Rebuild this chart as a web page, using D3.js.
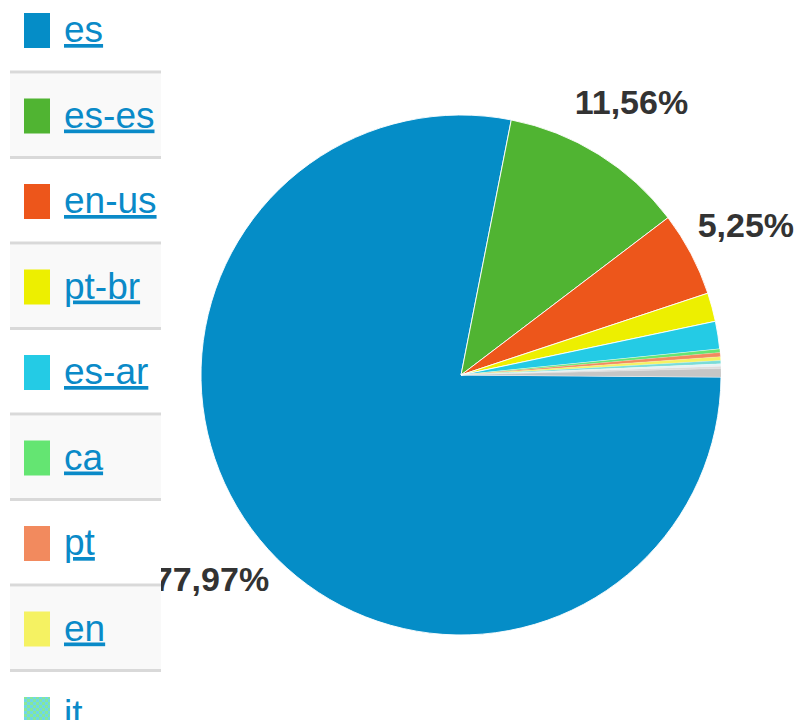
<!DOCTYPE html>
<html>
<head>
<meta charset="utf-8">
<script src="https://cdn.jsdelivr.net/npm/d3@7"></script>
<style>
  body { margin: 0; background: #fff; }
  svg { display: block; }
</style>
</head>
<body>
<div id="div_graph"></div>
<script>
// data
var categories = ["es", "es-es", "en-us", "pt-br", "es-ar", "ca", "pt", "en", "it"];
var values = [77.97, 11.56, 5.25, 1.78, 1.72, 0.22, 0.25, 0.24, 0.20];
var colors = ["#058dc7", "#50b432", "#ed561b", "#edef00", "#24cbe5", "#64e572", "#f28a5e", "#f5f262", "#7adcd8"];
// thin tail of unnamed slices (legend is cut off before them)
var otherValues = [0.15, 0.14, 0.52];
var otherColors = ["#e4f2f4", "#dcdcdc", "#c6c6c6"];

var width = 797, height = 720;
var cx = 461, cy = 375, radius = 260, labelRadius = 322;

var svg = d3.select('#div_graph')
  .append('svg')
    .attr('width', width)
    .attr('height', height);

var defs = svg.append('defs');
var checker = defs.append('pattern')
    .attr('id', 'it-pattern')
    .attr('width', 6)
    .attr('height', 6)
    .attr('patternUnits', 'userSpaceOnUse');
checker.append('rect').attr('width', 6).attr('height', 6).attr('fill', '#6fd6e6');
checker.append('rect').attr('width', 3).attr('height', 3).attr('fill', '#86e79a');
checker.append('rect').attr('x', 3).attr('y', 3).attr('width', 3).attr('height', 3).attr('fill', '#86e79a');

var slices = [];
values.forEach(function(v, i) { slices.push({name: categories[i], value: v, color: colors[i]}); });
otherValues.forEach(function(v, i) { slices.push({name: null, value: v, color: otherColors[i]}); });

var pie = d3.pie()
  .sort(null)
  .value(function(d) { return d.value; })
  .startAngle(Math.PI / 2 + 0.008)
  .endAngle(Math.PI / 2 + 0.008 + 2 * Math.PI);

var arc = d3.arc().innerRadius(0).outerRadius(radius);
var labelArc = d3.arc().innerRadius(labelRadius).outerRadius(labelRadius);

var g = svg.append('g')
  .attr('transform', 'translate(' + cx + ',' + cy + ')');

var arcs = pie(slices);

g.selectAll('path')
  .data(arcs).enter()
  .append('path')
    .attr('d', arc)
    .attr('fill', function(d) { return d.data.color; })
    .attr('stroke', '#fff')
    .attr('stroke-opacity', function(d) { return d.data.value > 1 ? 0.9 : 0.3; })
    .attr('stroke-width', function(d) { return d.data.value > 1 ? 1 : 0.5; });

g.selectAll('.pct')
  .data(arcs.filter(function(d) { return d.data.value > 5; })).enter()
  .append('text')
    .attr('class', 'pct')
    .attr('transform', function(d) { return 'translate(' + labelArc.centroid(d) + ')'; })
    .attr('text-anchor', 'middle')
    .attr('dy', '0.36em')
    .attr('font-family', '"Liberation Sans", Arial, sans-serif')
    .attr('font-size', 34)
    .attr('font-weight', 'bold')
    .attr('fill', '#333')
    .text(function(d) { return d3.format('.2f')(d.data.value).replace('.', ',') + '%'; });

// legend, drawn over the pie labels
var rowH = 85.5, sepTop = 70.5;
var legend = svg.append('g').attr('id', 'g_legend');

legend.append('rect')
  .attr('x', 0).attr('y', 0)
  .attr('width', 161).attr('height', height)
  .attr('fill', '#fff');

legend.selectAll('.row_bg')
  .data(categories).enter()
  .append('rect')
    .attr('class', 'row_bg')
    .attr('x', 10)
    .attr('y', function(d, i) { return sepTop + rowH * (i - 1) + 3; })
    .attr('width', 151)
    .attr('height', rowH - 3)
    .attr('fill', function(d, i) { return i % 2 ? '#f9f9f9' : 'none'; });

legend.selectAll('.sep')
  .data(categories).enter()
  .append('rect')
    .attr('class', 'sep')
    .attr('x', 10)
    .attr('y', function(d, i) { return sepTop + rowH * i; })
    .attr('width', 151)
    .attr('height', 3)
    .attr('fill', '#d9d9d9');

legend.selectAll('.swatch')
  .data(categories).enter()
  .append('rect')
    .attr('class', 'swatch')
    .attr('x', 24)
    .attr('y', function(d, i) { return 13 + rowH * i; })
    .attr('width', 26)
    .attr('height', 35)
    .attr('fill', function(d, i) { return d == 'it' ? 'url(#it-pattern)' : colors[i]; });

legend.selectAll('.legend_text')
  .data(categories).enter()
  .append('text')
    .attr('class', 'legend_text')
    .attr('x', 64)
    .attr('y', function(d, i) { return 42 + rowH * i; })
    .attr('font-family', '"Liberation Sans", Arial, sans-serif')
    .attr('font-size', 37)
    .attr('fill', '#0a8ac8')
    .style('text-decoration', 'underline')
    .text(function(d) { return d; });
</script>
</body>
</html>
